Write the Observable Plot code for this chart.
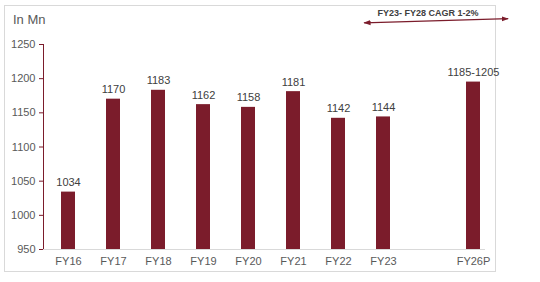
<!DOCTYPE html>
<html>
<head>
<meta charset="utf-8">
<script src="https://cdn.jsdelivr.net/npm/d3@7"></script>
<script src="https://cdn.jsdelivr.net/npm/@observablehq/plot@0.6"></script>
<style>
  html, body { margin: 0; padding: 0; background: #fff; }
  #wrap { position: relative; width: 540px; height: 282px; overflow: hidden; }
  #box { position: absolute; left: 4px; top: 5px; width: 492px; height: 267px; border: 1px solid #d9d9d9; box-sizing: border-box; }
  #chart { position: absolute; left: 0; top: 0; }
</style>
</head>
<body>
<div id="wrap"><div id="box"></div><div id="chart"></div></div>
<script>
const categories = ["FY16", "FY17", "FY18", "FY19", "FY20", "FY21", "FY22", "FY23", "FY26P"];
const values = [1034, 1170, 1183, 1162, 1158, 1181, 1142, 1144, 1195];
const valueLabels = ["1034", "1170", "1183", "1162", "1158", "1181", "1142", "1144", "1185-1205"];
const xDomain = ["FY16", "FY17", "FY18", "FY19", "FY20", "FY21", "FY22", "FY23", "gap", "FY26P"];
const yTicks = [950, 1000, 1050, 1100, 1150, 1200, 1250];
const unitLabel = "In Mn";
const cagrLabel = "FY23- FY28 CAGR 1-2%";

const data = categories.map((c, i) => ({cat: c, value: values[i], label: valueLabels[i]}));
const maroon = "#7b1c2b";

const plot = Plot.plot({
  width: 540,
  height: 282,
  marginLeft: 43,
  marginRight: 41,
  marginTop: 44,
  marginBottom: 33,
  style: {fontFamily: "'Liberation Sans', Arial, sans-serif", fontSize: "11px", color: "#595959", background: "transparent"},
  x: {domain: xDomain, paddingInner: 0.68, paddingOuter: 0.34, label: null, tickSize: 0, tickPadding: 8, tickFormat: d => d === "gap" ? "" : d},
  y: {domain: [950, 1250], ticks: yTicks, label: null, tickSize: 4, tickPadding: 4, tickFormat: d => String(d)},
  marks: [
    Plot.barY(data, {x: "cat", y1: 950, y2: "value", fill: maroon}),
    Plot.ruleY([950], {stroke: "#d9d9d9", insetRight: 14}),
    Plot.text(data, {x: "cat", y: "value", text: "label", lineAnchor: "bottom", dy: -6, fill: "#404040", fontSize: 11})
  ]
});
document.getElementById("chart").appendChild(plot);

const svg = d3.select(plot);
svg.selectAll("g[aria-label='y-axis tick'] path, g[aria-label='y-axis'] path").attr("stroke", maroon);
const xs = plot.scale("x"), ys = plot.scale("y");
svg.append("line")
  .attr("x1", 43.5).attr("x2", 43.5)
  .attr("y1", ys.apply(1250)).attr("y2", ys.apply(950))
  .attr("stroke", maroon).attr("stroke-width", 1);

// unit label
svg.append("text").attr("x", 13).attr("y", 24).attr("text-anchor", "start")
  .attr("fill", "#595959").attr("font-size", 13).text(unitLabel);

// CAGR annotation
const c23 = xs.apply("FY23") + xs.bandwidth / 2;
const c26 = xs.apply("FY26P") + xs.bandwidth / 2;
const ax1 = c23 - xs.step * 0.42, ax2 = c26 + xs.step * 0.78;
const ay1 = ys.apply(1281), ay2 = ys.apply(1287);
svg.append("defs").html(`<marker id="ah" viewBox="0 0 10 10" refX="9" refY="5" markerWidth="6" markerHeight="6" orient="auto-start-reverse"><path d="M0,1.5 L10,5 L0,8.5 z" fill="${maroon}"/></marker>`);
svg.append("line")
  .attr("x1", ax1).attr("y1", ay1).attr("x2", ax2).attr("y2", ay2)
  .attr("stroke", maroon).attr("stroke-width", 1.2)
  .attr("marker-start", "url(#ah)").attr("marker-end", "url(#ah)");
svg.append("text").attr("x", (ax1 + ax2) / 2 - 8).attr("y", 16)
  .attr("text-anchor", "middle").attr("font-weight", "bold").attr("font-size", 9)
  .attr("fill", "#404040").text(cagrLabel);
</script>
</body>
</html>
